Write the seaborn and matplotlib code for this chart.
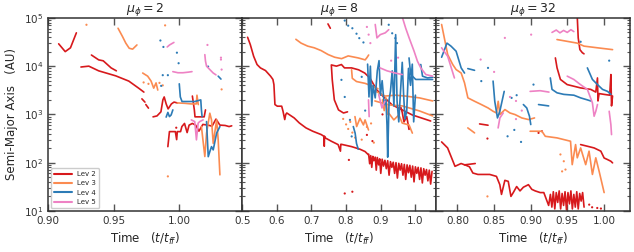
import numpy as np
import pandas as pd
import seaborn as sns
import matplotlib
matplotlib.use("Agg")
import matplotlib.pyplot as plt
from matplotlib.lines import Line2D
from matplotlib.ticker import FormatStrFormatter

levels = ["Lev 2", "Lev 3", "Lev 4", "Lev 5"]
colors = ["#d7191c", "#fb8b51", "#2c7bb6", "#ee82c4"]

# ---- mu_phi = 2 ----
mu2_lev2 = [
    ([0.908, 0.913, 0.917, 0.9215], [2.9e4, 2.0e4, 2.4e4, 4.9e4]),
    ([0.925, 0.931, 0.9385, 0.9515, 0.9615, 0.969, 0.973], [9.6e3, 1.0e4, 8.0e3, 6.3e3, 4.9e3, 3.5e3, 2.9e3]),
    ([0.933, 0.9385, 0.942, 0.948, 0.952], [1.7e4, 1.35e4, 1.29e4, 9.2e3, 8.0e3]),
    ([0.9715, 0.9738], [2.1e3, 1.8e3]),
    ([0.9745, 0.9765], [1.6e3, 1.35e3]),
    ([0.980, 0.983, 0.986, 0.9875, 0.9885, 0.990, 0.9915, 0.994, 0.996, 0.9985],
     [890, 930, 1130, 2000, 2300, 1650, 1300, 1650, 1800, 1730]),
    ([1.010, 1.0115, 1.012, 1.017, 1.019, 1.020], [2400, 1240, 890, 890, 890, 1240]),
    ([0.9913, 0.9925, 0.997, 0.998, 0.9985, 1.001, 1.002, 1.004, 1.006, 1.0075, 1.010,
      1.0125, 1.015, 1.018, 1.022, 1.025, 1.028, 1.031, 1.035, 1.038, 1.040],
     [215, 440, 440, 300, 440, 440, 560, 650, 420, 600, 650,
      600, 450, 620, 600, 570, 800, 600, 590, 560, 580]),
]
mu2_lev3 = [
    ([0.9533, 0.9567, 0.9592, 0.9618, 0.9644, 0.9677], [6.1e4, 4.1e4, 3.0e4, 2.35e4, 2.25e4, 2.75e4]),
    ([0.9721, 0.9759, 0.9785, 0.9805, 0.9823, 0.9836], [7.2e3, 6.2e3, 4.9e3, 3.5e3, 4.5e3, 3.2e3]),
    ([0.9985, 1.004, 1.009, 1.013, 1.0135, 1.0145], [1.73e3, 1.7e3, 1.65e3, 1.65e3, 2.5e3, 1.6e3]),
    ([1.0169, 1.0195, 1.0208, 1.0233, 1.0246, 1.0259, 1.0285, 1.0297, 1.031],
     [560, 134, 407, 1060, 770, 251, 770, 295, 56]),
]
mu2_lev4 = [
    ([1.000, 1.0008, 1.0021, 1.0118, 1.0164, 1.0169, 1.0174], [4.3e3, 2.3e3, 1.85e3, 1.85e3, 2.0e3, 1.24e3, 900]),
    ([0.990, 0.9913, 0.9925, 0.9938, 0.9951], [880, 1100, 900, 975, 1240]),
    ([1.0208, 1.0221, 1.0233, 1.0246, 1.0259, 1.0285, 1.031], [710, 133, 169, 215, 184, 410, 560]),
    ([1.0297, 1.0318], [6.2e3, 5.4e3]),
]
mu2_lev5 = [
    ([0.9908, 0.9926, 0.9959], [2.5e4, 2.75e4, 3.1e4]),
    ([0.9951, 0.999, 1.0028, 1.0067, 1.0097], [7.7e3, 7.3e3, 7.3e3, 7.5e3, 7.7e3]),
    ([1.0195, 1.020, 1.0208, 1.0233, 1.0259, 1.028], [1.73e4, 1.27e4, 1.0e4, 8.5e3, 7.2e3, 6.6e3]),
    ([1.0092, 1.0118, 1.0131, 1.0144, 1.0156, 1.0182], [770, 710, 297, 660, 710, 770]),
]
mu2_lev2_dots = ([0.9977], [530])
mu2_lev3_dots = ([0.9292, 0.9728, 0.9765, 0.9849, 0.9874, 0.9892, 0.9913, 1.0323],
                 [7.2e4, 4.6e3, 4.3e3, 4.5e3, 4.0e3, 7.0e4, 52, 3.3e3])
mu2_lev4_dots = ([0.9856, 0.9879, 0.9982, 0.9995, 0.9874, 0.9913, 0.9862, 1.022],
                 [3.4e4, 2.5e4, 1.9e4, 1.15e4, 6.5e3, 6.5e3, 3.9e3, 9.8e3])
mu2_lev5_dots = ([1.0215, 1.0318, 1.0318, 1.0323], [2.75e4, 1.5e4, 1.37e4, 8.5e3])

# ---- mu_phi = 8 ----
mu8_band_t = [0.865, 0.868, 0.871, 0.874, 0.877, 0.880, 0.884, 0.887, 0.890, 0.894,
              0.897, 0.900, 0.904, 0.908, 0.912, 0.916, 0.920, 0.924, 0.928, 0.932,
              0.936, 0.940, 0.944, 0.948, 0.952, 0.956, 0.960, 0.964, 0.968, 0.972,
              0.976, 0.980, 0.984, 0.988, 0.992, 0.996, 1.000, 1.004, 1.008, 1.012,
              1.016, 1.020, 1.024, 1.028, 1.032, 1.036, 1.040, 1.044, 1.048]
mu8_band_a = [150, 95, 140, 80, 135, 110, 130, 70, 128, 90,
              120, 60, 118, 85, 112, 75, 110, 55, 105, 80,
              102, 60, 100, 48, 97, 70, 95, 55, 92, 45,
              90, 62, 88, 50, 85, 40, 82, 60, 80, 45,
              78, 38, 75, 55, 72, 42, 70, 36, 66]
mu8_lev2 = [
    ([0.5156, 0.5234, 0.5331, 0.5429, 0.5526, 0.5673, 0.5819, 0.5887, 0.5916, 0.5945, 0.6014,
      0.614, 0.6179, 0.6228, 0.6257, 0.6287, 0.6355, 0.6501, 0.6647, 0.6842, 0.7037, 0.7281,
      0.7359, 0.7369, 0.7378, 0.7398, 0.7573, 0.7768, 0.7836, 0.7846, 0.7865, 0.8158, 0.840,
      0.8547, 0.8646],
     [3.97e4, 2.8e4, 1.6e4, 1.08e4, 9.2e3, 8.1e3, 6.2e3, 5.3e3, 4.15e3, 1.6e3, 1.48e3,
      1.48e3, 1.16e3, 782, 993, 1.07e3, 993, 845, 667, 525, 448, 382,
      352, 219, 352, 326, 278, 237, 173, 240, 240, 215, 190,
      170, 145]),
    (mu8_band_t, mu8_band_a),
    ([0.7476, 0.7544], [7.5e4, 6.1e4]),
    ([0.804, 0.7924, 0.778, 0.766, 0.760, 0.7573, 0.772, 0.7865, 0.7953, 0.8158, 0.836,
      0.8538, 0.8684, 0.880, 0.8889, 0.9035, 0.933, 0.962, 0.991, 1.044],
     [1.13e3, 1.07e3, 1.24e3, 2.0e3, 5.2e3, 1.06e4, 1.0e4, 1.08e4, 9.2e3, 9.2e3, 8.4e3,
      7.2e3, 5.7e3, 4.1e3, 3.2e3, 2.5e3, 1.57e3, 1.24e3, 975, 730]),
    ([0.958, 0.962, 0.967, 0.975, 0.9816], [1.4e3, 1.1e3, 700, 900, 490]),
]
mu8_lev3 = [
    ([0.655, 0.670, 0.689, 0.708, 0.728, 0.748, 0.767, 0.787, 0.806, 0.835, 0.855, 0.860, 0.865],
     [3.6e4, 3.0e4, 2.6e4, 2.4e4, 2.1e4, 1.74e4, 1.53e4, 1.43e4, 1.63e4, 1.48e4, 1.35e4, 1.5e4, 1.7e4]),
    ([0.8158, 0.8178, 0.830, 0.8547, 0.874, 0.892], [8.4e3, 5.6e3, 4.8e3, 4.4e3, 3.9e3, 3.4e3]),
    ([0.883, 0.9123, 0.9415, 0.9708, 1.0117, 1.0497], [3.07e3, 2.4e3, 2.5e3, 2.4e3, 2.2e3, 1.9e3]),
    ([0.883, 0.924, 0.962, 1.0117, 1.0497], [1.9e3, 1.57e3, 1.5e3, 1.18e3, 930]),
    ([0.8255, 0.8304, 0.840, 0.850, 0.8547, 0.8646], [900, 560, 830, 605, 770, 477]),
    ([0.923, 0.9377, 0.9523, 0.962, 0.9816, 0.9912], [1.06e3, 770, 975, 660, 605, 410]),
    ([0.905, 0.910, 0.915, 0.920], [2.0e3, 1.2e3, 2.2e3, 1.0e3]),
]
mu8_lev4 = [
    ([0.8207, 0.826, 0.830, 0.835], [560, 410, 250, 190]),
    ([0.862, 0.866, 0.870, 0.874, 0.878, 0.884, 0.890, 0.895, 0.899, 0.904, 0.910, 0.915,
      0.918, 0.920, 0.924, 0.928, 0.933, 0.938, 0.943, 0.947, 0.952, 0.957, 0.962, 0.966,
      0.970, 0.975, 0.980, 0.986, 0.991, 0.995, 1.000],
     [1.1e4, 2.3e3, 1.0e4, 1.5e3, 4e3, 2.2e3, 8e3, 1.3e4, 2.5e3, 5e3, 1.6e3, 2.0e3,
      600, 130, 2.0e3, 3.0e3, 8e3, 1.5e3, 4.5e4, 1.9e3, 700, 3e3, 1.2e4, 2.5e3,
      800, 1.2e3, 9e3, 4e3, 1.1e4, 700, 2.5e3]),
    ([0.9816, 0.9864, 1.001, 1.0497], [1.48e4, 6.7e3, 5.3e3, 5.3e3]),
    ([1.0155, 1.0205, 1.035, 1.0497], [1.08e4, 6.2e3, 5.7e3, 5.9e3]),
]
mu8_lev5 = [
    ([0.962, 0.9717, 0.9816, 0.9962, 1.0058, 1.0155, 1.0301, 1.0497],
     [1.05e5, 6.2e4, 3.9e4, 2.04e4, 1.27e4, 9.2e3, 6.7e3, 6.2e3]),
    ([0.884, 0.889, 0.8986, 0.913, 0.923], [7.3e4, 3.85e4, 4.5e4, 4.9e4, 5.7e4]),
    ([0.898, 0.918, 0.9415, 0.962], [9.2e3, 8e3, 7.2e3, 6.7e3]),
    ([0.894, 0.9035, 0.912], [2.57e3, 1.36e3, 1.87e3]),
    ([0.8646, 0.8665], [2.0e3, 900]),
]
mu8_lev2_dots = ([0.796, 0.818, 0.808, 0.860, 0.9816, 0.876, 0.905], [23, 25, 114, 376, 515, 280, 1.0e3])
mu8_lev3_dots = ([0.7915, 0.800, 0.806, 0.812, 0.818, 0.826, 0.845, 0.860, 0.872, 0.880],
                 [807, 620, 500, 700, 420, 330, 300, 550, 650, 260])
mu8_lev4_dots = ([0.796, 0.806, 0.818, 0.830, 0.838, 0.850, 0.7865, 0.796, 0.811, 0.816,
                  0.923, 0.933, 0.942, 0.947, 0.855, 0.845],
                 [8.8e4, 6.9e4, 6.1e4, 4.7e4, 3.8e4, 3.1e4, 5.2e3, 2.3e3, 770, 350,
                  7.2e4, 4.8e4, 3.8e4, 3.0e4, 1.2e3, 6e3])
mu8_lev5_dots = ([0.860, 0.865, 0.870, 0.930, 0.950], [6.5e4, 4.5e4, 3.0e4, 1.3e4, 1.5e4])

# ---- mu_phi = 32 ----
mu32_lev2 = [
    ([0.7784, 0.7866, 0.7967, 0.8050, 0.8119, 0.8165, 0.8211, 0.828, 0.8441, 0.8533,
      0.8579, 0.8602, 0.8648, 0.8694, 0.8731, 0.8763, 0.8809, 0.8855, 0.8901, 0.897,
      0.9016, 0.9062, 0.9131, 0.918, 0.9246, 0.927, 0.929, 0.931, 0.933, 0.935,
      0.937, 0.939, 0.941, 0.943, 0.945, 0.947, 0.949, 0.951, 0.953, 0.955,
      0.957, 0.959, 0.961, 0.963, 0.965, 0.967, 0.969, 0.971, 0.973],
     [269, 202, 84, 96, 88, 82, 61, 57, 57, 52,
      35, 22, 43, 41, 20, 24, 32, 26, 31, 35,
      28, 26, 24, 24, 13, 22, 12, 25, 11, 24,
      15, 26, 11, 23, 13, 25, 10.5, 24, 14, 26,
      11, 22, 12, 25, 11, 23, 16, 24, 12]),
    ([0.8096, 0.8243], [90, 96]),
    ([0.8303, 0.8418], [635, 597]),
    ([0.9637, 0.965, 0.9673, 0.9706, 0.9729], [1.05e5, 3.85e4, 2.2e4, 1.9e4, 1.8e4]),
    ([0.9338, 0.9361, 0.9407, 0.9499, 0.9683, 0.9821, 0.989, 0.9913, 0.992, 0.9935,
      1.0004, 1.008, 1.0096, 1.0105, 1.0119],
     [1.48e4, 9.2e3, 5.3e3, 4.15e3, 3.54e3, 3.3e3, 2.9e3, 5.7e3, 1.9e3, 2.7e3,
      2.6e3, 2.5e3, 6.7e3, 1.5e3, 2.4e3]),
    ([0.9683, 0.9775, 0.9867, 0.9913, 0.9959, 1.0004, 1.005, 1.0096, 1.0119],
     [237, 219, 202, 187, 173, 125, 116, 107, 99]),
]
mu32_lev3 = [
    ([0.7784, 0.7821, 0.7867, 0.7936, 0.7982, 0.8051, 0.8097, 0.8143, 0.8235, 0.8327,
      0.8419, 0.8488, 0.8534, 0.8557, 0.858, 0.8649, 0.8718, 0.8787, 0.8879, 0.8971, 0.9053],
     [7.3e4, 3.85e4, 1.74e4, 1.08e4, 8.5e3, 7.2e3, 4.5e3, 2.2e3, 1.87e3, 1.6e3,
      1.36e3, 1.16e3, 1.07e3, 1.87e3, 993, 1.26e3, 1.07e3, 993, 845, 782, 845]),
    ([0.8142, 0.8234], [525, 414]),
    ([0.936, 0.9637, 0.9729, 0.9913, 1.0119], [3.56e4, 3.0e4, 2.6e4, 2.4e4, 2.2e4]),
    ([0.8993, 0.9154, 0.920, 0.9361, 0.9545, 0.9568, 0.9614, 0.9637, 0.9683, 0.9752,
      0.9798, 0.9844, 0.989, 0.9936, 1.0004],
     [448, 448, 352, 326, 278, 91, 237, 126, 202, 91,
      173, 57, 126, 66, 24]),
]
mu32_lev4 = [
    ([0.7784, 0.7857, 0.7912, 0.7982, 0.8051, 0.8097], [1.53e4, 3.0e4, 2.6e4, 2.04e4, 9.2e3, 7.2e3]),
    ([0.8142, 0.8234], [8.9e3, 8.2e3]),
    ([0.8487, 0.851, 0.8547, 0.8579, 0.8639], [4.9e3, 1.87e3, 845, 1.16e3, 3.0e3]),
    ([0.8901, 0.8947, 0.8984, 0.9002], [1.6e3, 1.36e3, 917, 617]),
    ([0.9108, 0.9177, 0.9246], [1.6e3, 1.55e3, 1.5e3]),
    ([0.9269, 0.9292, 0.9361, 0.9453, 0.9591, 0.9683, 0.9775, 0.9821],
     [5.7e3, 3.3e3, 2.8e3, 2.6e3, 2.5e3, 2.2e3, 2.0e3, 1.9e3]),
    ([0.9775, 0.9844, 0.9913, 0.9982, 1.0051, 1.0096], [9.2e3, 5.3e3, 4.15e3, 3.3e3, 3.0e3, 2.6e3]),
]
mu32_lev5 = [
    ([0.7784, 0.7867, 0.7959], [2.4e4, 1.6e4, 5.7e3]),
    ([0.8556, 0.858, 0.8625], [525, 845, 1.07e3]),
    ([0.8993, 0.913, 0.925], [3.0e3, 3.1e3, 2.9e3]),
    ([0.9292, 0.935, 0.940, 0.945, 0.950, 0.955, 0.959], [5.0e4, 5.6e4, 4.9e4, 5.5e4, 5.0e4, 5.7e4, 5.2e4]),
    ([0.950, 0.959, 0.968, 0.9775, 0.9844, 0.9867, 0.989, 0.9913],
     [6.2e3, 5.3e3, 4.15e3, 3.3e3, 1.73e3, 917, 1.16e3, 1.6e3]),
    ([1.0073, 1.0096, 1.0105], [1.16e3, 617, 382]),
]
mu32_lev2_dots = ([0.841, 0.9108, 0.9154, 0.980, 0.984, 0.991, 0.996], [316, 414, 448, 13.5, 11.9, 11.5, 11.2])
mu32_lev3_dots = ([0.841, 0.9407, 0.9453, 0.943, 0.9476], [20, 148, 107, 66, 72])
mu32_lev4_dots = ([0.8326, 0.8418, 0.874, 0.8809, 0.8685, 0.8777, 0.8869, 0.9039, 0.9683, 1.0073],
                  [4.9e3, 9.2e3, 2.2e3, 2.5e3, 352, 477, 269, 4.15e3, 3.2e4, 1.3e4])
mu32_lev5_dots = ([0.8648, 0.8317, 0.8501, 0.8718, 0.880, 0.8879, 0.9007, 0.880],
                  [3.85e4, 1.37e4, 7.6e3, 2.3e3, 1.9e3, 1.2e3, 4.5e4, 800])

titles = [r"$\mu_\phi = 2$", r"$\mu_\phi = 8$", r"$\mu_\phi = 32$"]
xlims = [(0.90, 1.048), (0.5, 1.06), (0.771, 1.036)]
xticks = [[0.90, 0.95, 1.00], [0.5, 0.6, 0.7, 0.8, 0.9, 1.0], [0.80, 0.85, 0.90, 0.95, 1.00]]
xfmts = ["%.2f", "%.1f", "%.2f"]

panel_lines = [
    [mu2_lev2, mu2_lev3, mu2_lev4, mu2_lev5],
    [mu8_lev2, mu8_lev3, mu8_lev4, mu8_lev5],
    [mu32_lev2, mu32_lev3, mu32_lev4, mu32_lev5],
]
panel_dots = [
    [mu2_lev2_dots, mu2_lev3_dots, mu2_lev4_dots, mu2_lev5_dots],
    [mu8_lev2_dots, mu8_lev3_dots, mu8_lev4_dots, mu8_lev5_dots],
    [mu32_lev2_dots, mu32_lev3_dots, mu32_lev4_dots, mu32_lev5_dots],
]


def lines_frame(series):
    rows = []
    for lev, segs in zip(levels, series):
        for k, (ts, avals) in enumerate(segs):
            for t, a in zip(ts, avals):
                rows.append((lev, f"{lev}-{k}", t, a))
    return pd.DataFrame(rows, columns=["level", "seg", "t", "a"])


def dots_frame(series):
    rows = []
    for lev, (ts, avals) in zip(levels, series):
        for t, a in zip(ts, avals):
            rows.append((lev, t, a))
    return pd.DataFrame(rows, columns=["level", "t", "a"])


sns.set_style("ticks")
plt.rcParams["font.family"] = ["DejaVu Sans"]
pal = dict(zip(levels, colors))

fig, axes = plt.subplots(1, 3, figsize=(6.34, 2.52), dpi=100, sharey=True)
plt.subplots_adjust(left=0.076, right=0.994, top=0.929, bottom=0.163, wspace=0)
axes[0].set_yscale("log")

for i, ax in enumerate(axes):
    df = lines_frame(panel_lines[i])
    sns.lineplot(data=df, x="t", y="a", hue="level", units="seg", estimator=None, sort=False,
                 palette=pal, hue_order=levels, legend=False, linewidth=1.2, ax=ax)
    dd = dots_frame(panel_dots[i])
    sns.scatterplot(data=dd, x="t", y="a", hue="level", palette=pal, hue_order=levels,
                    s=2.5, marker="o", linewidth=0, legend=False, ax=ax)
    ax.set_xlim(*xlims[i])
    ax.set_ylim(10, 1e5)
    ax.set_xticks(xticks[i])
    ax.xaxis.set_major_formatter(FormatStrFormatter(xfmts[i]))
    ax.set_title(titles[i], fontsize=9, pad=2)
    ax.set_xlabel(r"Time   $(t/t_{ff})$", fontsize=8.5)
    ax.set_ylabel("")
    ax.tick_params(which="both", direction="in", top=True, right=True, colors="#555555",
                   labelcolor="#333333", labelsize=7.5)
    ax.tick_params(which="major", length=5, width=1)
    ax.tick_params(which="minor", length=2.5, width=0.8)
    for s in ax.spines.values():
        s.set_color("#333333")
        s.set_linewidth(1.1)

axes[0].set_ylabel("Semi-Major Axis   (AU)", fontsize=8.5)

handles = [Line2D([0], [0], color=c, lw=1.5) for c in colors]
axes[0].legend(handles, levels, loc="lower left", fontsize=5, handlelength=2.6,
               borderaxespad=0.4, frameon=True, edgecolor="#cccccc", framealpha=1)

fig.savefig("out.png", dpi=100)
